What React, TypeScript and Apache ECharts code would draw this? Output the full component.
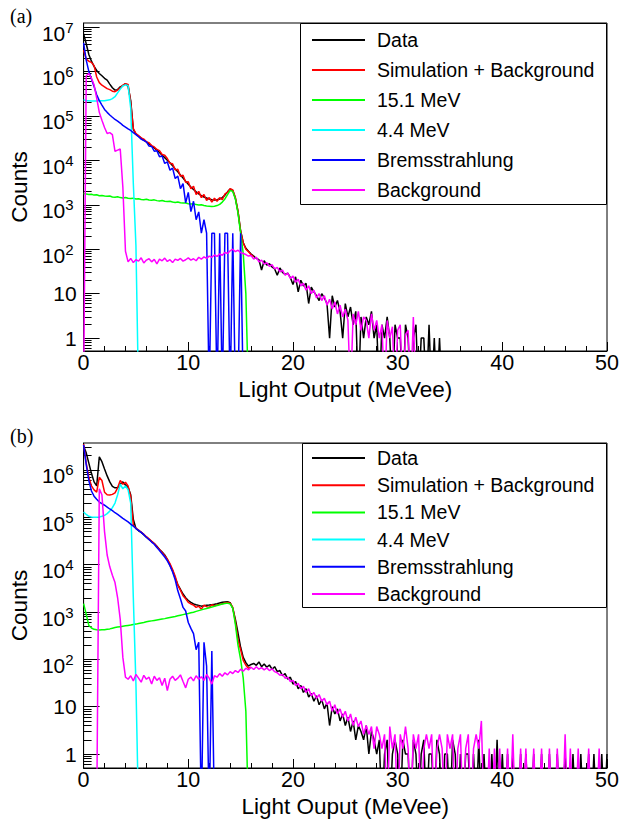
import { useEffect, useRef } from "react";
import * as echarts from "echarts";

// ---------- data (bin width 0.25 MeVee, first bin centred at 0) ----------
const BIN = 0.25;
const SERIES_NAMES = ["Data", "Simulation + Background", "15.1 MeV", "4.4 MeV", "Bremsstrahlung", "Background"];
const SERIES_COLORS = ["#000000", "#ff0000", "#00ff00", "#00ffff", "#0000ff", "#ff00ff"];
const X_TITLE_A = "Light Output (MeVee)";
const X_TITLE_B = "Light Ouput (MeVee)";
const Y_TITLE = "Counts";
const DECADES_A = [0, 1, 2, 3, 4, 5, 6, 7];
const DECADES_B = [0, 1, 2, 3, 4, 5, 6];

// Panel (a)
const dataA = [
  7.0e6, 4.2e6, 2.4e6, 1.7e6, 1.3e6, 1.05e6, 9.0e5, 8.0e5,
  7.0e5, 6.4e5, 5.2e5, 4.3e5, 3.8e5, 3.9e5, 4.5e5, 4.8e5,
  5.3e5, 4.6e5, 2.2e5, 5.0e4, 3.9e4, 3.5e4, 3.15e4, 2.85e4,
  2.6e4, 2.35e4, 2.1e4, 1.9e4, 1.7e4, 1.5e4, 1.3e4, 1.15e4,
  1.0e4, 8800, 7600, 6400, 5500, 4700, 4000, 3400,
  2900, 2500, 2200, 1950, 1750, 1600, 1500, 1420,
  1350, 1300, 1280, 1300, 1350, 1450, 1650, 1950,
  2250, 2100, 1400, 700, 260, 140, 105, 90,
  78, 70, 62, 58, 34, 55, 44, 47,
  40, 36, 26, 38, 30, 27, 29, 23,
  16, 24, 11, 20, 15, 17, 6, 14,
  11, 9, 7, 10, 8, 6, 1, 9,
  5, 7, 4, 1, 6, 3, 5, 2,
  4, 0, 3, 1, 3, 2, 4, 1,
  2, 0, 2, 1, 3, 1, 0, 2,
  1, 1, 0, 2, 1, 0, 1, 2,
  0, 1, 1, 0, 2, 0, 1, 0,
  1, 0,
];
const simA = [
  3.0e6, 1.9e6, 1.7e6, 1.6e6, 1.35e6, 7.5e5, 5.6e5, 4.9e5,
  4.5e5, 4.1e5, 3.9e5, 3.6e5, 3.5e5, 3.8e5, 4.3e5, 4.9e5,
  5.3e5, 5.1e5, 2.0e5, 5.2e4, 4.0e4, 3.6e4, 3.2e4, 3.0e4,
  2.6e4, 2.5e4, 2.15e4, 2.0e4, 1.75e4, 1.65e4, 1.35e4, 1.3e4,
  1.1e4, 8600, 8400, 6100, 6300, 4400, 4600, 3200,
  3300, 2300, 2600, 1700, 2000, 1450, 1700, 1250,
  1450, 1150, 1400, 1200, 1450, 1300, 1750, 1900,
  2300, 2150, 1450, 720, 250, 140, 100, 88,
  75, 68,
];
const gammaA151 = [
  1800, 1750, 1700, 1720, 1650, 1680, 1600, 1620,
  1580, 1550, 1570, 1500, 1480, 1510, 1450, 1420,
  1460, 1400, 1380, 1410, 1350, 1370, 1320, 1300,
  1330, 1280, 1260, 1290, 1240, 1220, 1250, 1200,
  1180, 1200, 1150, 1130, 1160, 1110, 1090, 1100,
  1060, 1040, 1060, 1010, 990, 1000, 960, 940,
  930, 920, 930, 960, 1020, 1150, 1350, 1700,
  2100, 2000, 1350, 650, 230, 80, 10, 0,
];
const gammaA44 = [
  2.3e5, 2.2e5, 2.2e5, 2.15e5, 2.15e5, 2.15e5, 2.2e5, 2.2e5,
  2.2e5, 2.25e5, 2.3e5, 2.45e5, 2.7e5, 3.3e5, 4.0e5, 4.7e5,
  5.0e5, 4.8e5, 1.5e5, 3000, 120, 0,
];
const bremsA = [
  4.4e6, 1.8e6, 1.0e6, 6.8e5, 4.6e5, 3.0e5, 2.2e5, 1.75e5,
  1.4e5, 1.2e5, 1.05e5, 9.3e4, 8.3e4, 7.6e4, 6.9e4, 6.1e4,
  5.6e4, 5.1e4, 4.7e4, 4.2e4, 3.8e4, 3.4e4, 3.0e4, 2.8e4,
  2.6e4, 2.1e4, 2.05e4, 1.6e4, 1.65e4, 1.2e4, 1.25e4, 8500,
  9200, 6000, 6700, 3900, 4400, 2300, 3000, 1100,
  1900, 700, 1200, 460, 690, 230, 460, 230,
  0, 230, 230, 0, 230, 0, 230, 230,
  0, 230, 0, 0, 230, 0,
];
const bkgA = [
  0, 8.0e5, 9.0e5, 7.0e5, 5.0e5, 2.5e5, 1.2e5, 8.0e4,
  5.5e4, 4.0e4, 4.2e4, 3.8e4, 1.6e4, 1.7e4, 1.8e4, 2500,
  90, 52, 62, 50, 58, 54, 64, 49,
  57, 61, 52, 59, 47, 60, 55, 63,
  53, 58, 50, 60, 56, 62, 54, 58,
  64, 57, 61, 55, 66, 60, 67, 62,
  70, 66, 74, 69, 78, 73, 85, 80,
  92, 100, 88, 95, 84, 80, 76, 70,
  72, 60, 66, 52, 57, 46, 50, 41,
  45, 36, 39, 31, 34, 26, 29, 22,
  25, 18, 21, 15, 17, 12, 15, 10,
  12, 8, 10, 7, 9, 5.5, 7.5, 4.5,
  6.5, 3.5, 5.5, 3, 4.5, 2.5, 0, 3.5,
  2, 4, 1.5, 3, 2.5, 1, 3.5, 1.5,
  2.5, 1, 2, 0, 2.5, 1, 1.8, 0,
  1.5, 2, 0, 1.2, 1.5, 0, 3, 0,
];

// Panel (b)
const dataB = [
  3.2e6, 2.3e6, 1.4e6, 8.5e5, 5.6e5, 4.6e5, 1.9e6, 1.5e6,
  1.05e6, 7.5e5, 5.6e5, 4.5e5, 4.2e5, 4.2e5, 5.0e5, 5.6e5,
  4.8e5, 4.3e5, 3.0e5, 9.0e4, 5.8e4, 5.2e4, 4.8e4, 4.3e4,
  3.8e4, 3.4e4, 3.1e4, 2.8e4, 2.45e4, 2.1e4, 1.85e4, 1.6e4,
  1.3e4, 9800, 7500, 5200, 3800, 3000, 2400, 2000,
  1750, 1600, 1480, 1420, 1380, 1330, 1360, 1390,
  1400, 1430, 1460, 1500, 1550, 1600, 1620, 1640,
  1580, 1200, 700, 360, 180, 110, 85, 72,
  78, 82, 75, 88, 70, 80, 68, 76,
  62, 70, 55, 58, 45, 50, 38, 42,
  30, 34, 24, 28, 20, 24, 16, 19,
  13, 17, 11, 14, 9, 12, 4, 10,
  7, 9, 5, 7, 4, 6, 3, 5,
  2, 4, 3, 2, 4, 1, 3, 2,
  1, 2, 0, 1, 2, 0, 1, 2,
  1, 0, 2, 1, 1, 0, 2, 1,
  0, 1, 2, 0, 1, 1, 0, 2,
  1, 0, 1, 1, 0, 2, 1, 0,
  1, 0, 1, 1, 0, 1, 0, 2,
  0, 1, 0, 0, 1, 0, 2, 0,
  1, 0, 1, 0, 1, 0, 0, 1,
  0, 1, 0, 0, 1, 0, 0, 1,
  0, 0, 1, 0, 0, 1, 0, 0,
  1, 0, 0, 1, 0, 0, 1, 0,
  0, 1, 0, 1, 0, 0, 1, 0,
  1,
];
const simB = [
  3.5e6, 1.4e6, 7.0e5, 4.6e5, 3.8e5, 3.4e5, 7.0e5, 6.0e5,
  3.4e5, 3.0e5, 2.95e5, 3.05e5, 3.3e5, 4.2e5, 6.0e5, 5.0e5,
  5.5e5, 4.6e5, 2.7e5, 6.8e4, 5.9e4, 5.4e4, 4.9e4, 4.4e4,
  3.9e4, 3.5e4, 3.1e4, 2.8e4, 2.4e4, 2.1e4, 1.8e4, 1.55e4,
  1.3e4, 1.05e4, 7900, 5700, 3700, 2900, 2200, 1900,
  1600, 1480, 1400, 1250, 1330, 1150, 1400, 1300,
  1250, 1420, 1360, 1400, 1450, 1500, 1550, 1590,
  1540, 1250, 620, 260, 160, 95, 75, 65,
  68,
];
const gammaB151 = [
  1500, 900, 520, 460, 430, 420, 415, 420,
  420, 430, 440, 455, 470, 480, 490, 500,
  510, 520, 530, 545, 555, 570, 585, 600,
  620, 635, 650, 665, 680, 695, 710, 725,
  745, 765, 785, 805, 830, 855, 880, 905,
  930, 960, 990, 1030, 1070, 1110, 1150, 1190,
  1230, 1270, 1320, 1370, 1420, 1470, 1510, 1540,
  1480, 1200, 550, 200, 100, 40, 8, 0,
];
const gammaB44 = [
  1.3e5, 1.15e5, 1.05e5, 1.02e5, 1.0e5, 1.0e5, 1.02e5, 1.05e5,
  1.1e5, 1.2e5, 1.35e5, 1.6e5, 2.0e5, 3.0e5, 5.0e5, 4.0e5,
  4.6e5, 3.8e5, 2.0e5, 2000, 30, 0,
];
const bremsB = [
  3.4e6, 1.3e6, 6.0e5, 3.6e5, 2.8e5, 2.4e5, 2.1e5, 1.95e5,
  1.8e5, 1.65e5, 1.5e5, 1.38e5, 1.25e5, 1.15e5, 1.05e5, 9.5e4,
  8.7e4, 8.0e4, 7.2e4, 6.5e4, 5.8e4, 5.3e4, 4.8e4, 4.3e4,
  3.8e4, 3.4e4, 3.0e4, 2.7e4, 2.3e4, 2.0e4, 1.7e4, 1.45e4,
  1.2e4, 9500, 7000, 4800, 2800, 1900, 1250, 1050,
  600, 450, 350, 160, 230, 0, 230, 72,
  0, 150, 0, 0,
];
const bkgB = [
  0, 0, 0, 0, 0, 0, 4.0e5, 3.0e5,
  5.0e4, 1.6e4, 9000, 6000, 4200, 2000, 700, 110,
  42, 38, 45, 35, 48, 40, 33, 46,
  38, 42, 30, 44, 36, 41, 28, 40,
  22, 38, 44, 36, 40, 47, 34, 25,
  38, 42, 35, 45, 38, 43, 36, 48,
  40, 30, 45, 42, 50, 44, 52, 47,
  55, 50, 58, 53, 62, 56, 65, 60,
  68, 61, 70, 62, 67, 60, 66, 58,
  63, 55, 52, 46, 48, 40, 42, 34,
  36, 28, 31, 24, 27, 20, 24, 17,
  20, 15, 18, 13, 15, 11, 13, 8,
  11, 7, 9, 6, 8, 5, 7, 4,
  6, 3.8, 5, 2.6, 4, 2.6, 3.8, 1.3,
  3.8, 2.6, 1.3, 2.6, 0, 3.8, 1.3, 2.6,
  0, 2.6, 1.3, 3.8, 1.3, 0, 2.6, 1.3,
  2.6, 0, 1.3, 2.6, 1.3, 2.6, 0, 1.3,
  2.6, 1.3, 0, 2.6, 1.3, 2.6, 0, 1.3,
  2.6, 0, 1.3, 2.6, 0, 1.3, 2.6, 1.3,
  5, 0, 0, 1.3, 0, 1.3, 0, 1.3,
  0, 0, 1.3, 0, 2.6, 0, 0, 1.3,
  0, 1.3, 0, 0, 1.3, 0, 0, 1.3,
  0, 0, 1.3, 0, 0, 1.3, 0, 0,
  2.6, 0, 1.3, 0, 0, 1.3, 0, 0,
  0, 1.3, 0, 0, 0, 1.3, 0,
];

const PANEL_A = [dataA, simA, gammaA151, gammaA44, bremsA, bkgA];
const PANEL_B = [dataB, simB, gammaB151, gammaB44, bremsB, bkgB];

// ---------- helpers ----------
const FONT = '"Liberation Sans", Arial, Helvetica, sans-serif';
const SERIF = '"Liberation Serif", "DejaVu Serif", serif';

function toPoints(vals: number[], floor: number) {
  return vals.map((v, i) => [i * BIN, v > 0 ? Math.log10(v) : floor - 1]);
}

function minorTicks(lo: number, hi: number) {
  const out: number[] = [];
  for (let n = -1; n <= 8; n++) {
    for (let k = 2; k <= 9; k++) {
      const v = n + Math.log10(k);
      if (v > lo && v < hi) out.push(v);
    }
  }
  return out;
}

function yLabel(v: number) {
  const n = Math.round(v);
  if (n === 0) return "{p|1}";
  if (n === 1) return "{p|10}";
  return `{b|10}{s|${n}}`;
}

const Y_RICH = {
  p: { fontSize: 21, fontFamily: FONT, color: "#000" },
  b: { fontSize: 21, fontFamily: FONT, color: "#000", padding: [12, 0, 0, 0] },
  s: { fontSize: 15, fontFamily: FONT, color: "#000", padding: [0, 3, 0, 0] },
};

export default function App() {
  const ref = useRef<HTMLDivElement>(null);

  useEffect(() => {
    if (!ref.current) return;
    const chart = echarts.init(ref.current, undefined, { renderer: "svg" });

    const panels = [
      { vals: PANEL_A, top: 23, height: 328, yMin: -0.29, yMax: 7.09, decades: DECADES_A, xTitle: X_TITLE_A, legTop: 30, legGap: 10 },
      { vals: PANEL_B, top: 443, height: 326, yMin: -0.295, yMax: 6.57, decades: DECADES_B, xTitle: X_TITLE_B, legTop: 448, legGap: 7.2 },
    ];

    const grid: any[] = [];
    const xAxis: any[] = [];
    const yAxis: any[] = [];
    const series: any[] = [];
    const legend: any[] = [];

    panels.forEach((p, g) => {
      grid.push({
        left: 83, top: p.top, width: 524, height: p.height,
        show: true, borderColor: "#000", borderWidth: 1, backgroundColor: "transparent",
      });
      xAxis.push({
        type: "value", gridIndex: g, min: 0, max: 50, interval: 10,
        axisLine: { show: true, onZero: false, lineStyle: { color: "#000", width: 1 } },
        axisTick: { show: true, inside: true, length: 9, lineStyle: { color: "#000", width: 1 } },
        minorTick: { show: true, splitNumber: 5, length: 5, lineStyle: { color: "#000", width: 1 } },
        splitLine: { show: false },
        minorSplitLine: { show: false },
        axisLabel: { fontSize: 21.5, fontFamily: FONT, color: "#000", margin: 1 },
        name: p.xTitle, nameLocation: "middle", nameGap: 27,
        nameTextStyle: { fontSize: 22.5, fontFamily: FONT, color: "#000" },
      });
      yAxis.push({
        type: "value", gridIndex: g, min: p.yMin, max: p.yMax, position: "left",
        axisLine: { show: true, onZero: false, lineStyle: { color: "#000", width: 1 } },
        axisTick: { show: true, inside: true, length: 16, customValues: p.decades, lineStyle: { color: "#000", width: 1 } },
        axisLabel: { show: true, customValues: p.decades, margin: 7, formatter: yLabel, rich: Y_RICH },
        splitLine: { show: false },
        name: Y_TITLE, nameLocation: "middle", nameGap: 52,
        nameTextStyle: { fontSize: 22.5, fontFamily: FONT, color: "#000" },
      });
      yAxis.push({
        type: "value", gridIndex: g, min: p.yMin, max: p.yMax, position: "left", offset: 0,
        axisLine: { show: false, onZero: false },
        axisTick: { show: true, inside: true, length: 8, customValues: minorTicks(p.yMin, p.yMax), lineStyle: { color: "#000", width: 1 } },
        axisLabel: { show: false },
        splitLine: { show: false },
      });
      p.vals.forEach((vals, k) => {
        series.push({
          type: "line", name: SERIES_NAMES[k], xAxisIndex: g, yAxisIndex: g * 2,
          data: toPoints(vals, p.yMin), symbol: "none", showSymbol: false,
          color: SERIES_COLORS[k], lineStyle: { color: SERIES_COLORS[k], width: 1.5 },
          clip: true, silent: true,
        });
      });
      legend.push({
        show: true, orient: "vertical", left: 312, top: p.legTop, padding: 0,
        itemWidth: 53, itemHeight: 2, itemGap: p.legGap, icon: "rect",
        selectedMode: false, data: SERIES_NAMES, z: 10,
        textStyle: { fontSize: 19.5, fontFamily: FONT, color: "#000", lineHeight: 20, padding: [0, 0, 0, 7] },
      });
    });

    chart.setOption({
      animation: false,
      backgroundColor: "#fff",
      grid, xAxis, yAxis, series, legend,
      graphic: [
        { type: "rect", z: 8, shape: { x: 300.5, y: 23.5, width: 306, height: 181 }, style: { fill: "#fff", stroke: "#000", lineWidth: 1 } },
        { type: "rect", z: 8, shape: { x: 302.5, y: 443.5, width: 304, height: 164 }, style: { fill: "#fff", stroke: "#000", lineWidth: 1 } },
        { type: "text", z: 8, x: 10, y: 6, style: { text: "(a)", font: `20px ${SERIF}`, fill: "#000", align: "left", verticalAlign: "top" } },
        { type: "text", z: 8, x: 10, y: 426, style: { text: "(b)", font: `20px ${SERIF}`, fill: "#000", align: "left", verticalAlign: "top" } },
      ],
    });

    return () => chart.dispose();
  }, []);

  return <div ref={ref} style={{ position: "absolute", left: 0, top: 0, width: 629, height: 819 }} />;
}
